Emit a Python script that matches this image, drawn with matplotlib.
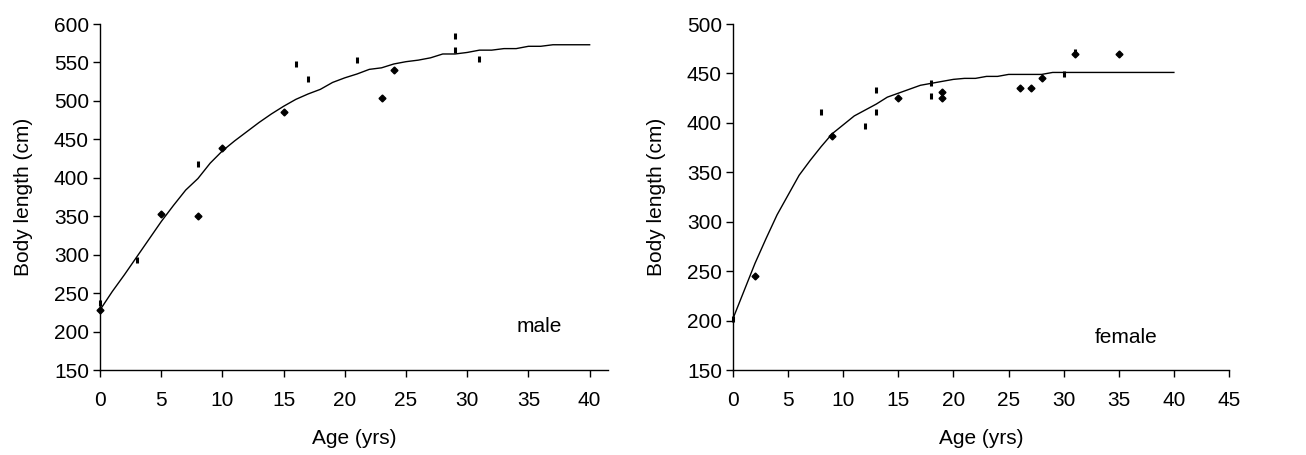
import matplotlib
matplotlib.use('Agg')
import matplotlib.pyplot as plt
import numpy as np

plt.rcParams['font.family'] = ['Liberation Sans', 'DejaVu Sans']
plt.rcParams['font.size'] = 15

# male
male_fit_age = list(range(41))
male_fit_len = [228, 252, 274, 297, 320, 343, 364, 384, 399, 419, 435, 448, 460, 472, 483,
                493, 502, 509, 515, 524, 530, 535, 541, 543, 548, 551, 553, 556, 561, 561,
                563, 566, 566, 568, 568, 571, 571, 573, 573, 573, 573]
male_dia_age = [0, 5, 8, 10, 15, 23, 24]
male_dia_len = [228, 353, 350, 439, 486, 504, 540]
male_bar_age = [0, 3, 8, 16, 17, 21, 29, 29, 31]
male_bar_len = [237, 293, 418, 548, 529, 553, 584, 566, 555]

# female
fem_fit_age = list(range(41))
fem_fit_len = [202, 230, 258, 283, 307, 327, 347, 362, 376, 389, 398, 407, 413, 419, 426,
               430, 434, 438, 440, 442, 444, 445, 445, 447, 447, 449, 449, 449, 449, 451,
               451, 451, 451, 451, 451, 451, 451, 451, 451, 451, 451]
fem_dia_age = [2, 9, 15, 19, 19, 26, 27, 28, 31, 35]
fem_dia_len = [245, 387, 425, 431, 425, 435, 435, 445, 470, 470]
fem_bar_age = [0, 8, 12, 13, 13, 18, 18, 30, 31]
fem_bar_len = [202, 411, 397, 433, 411, 440, 427, 449, 472]

fig = plt.figure(figsize=(13.06, 4.55), dpi=100)
ax1 = fig.add_axes([100/1306, 85/455, 508/1306, 346/455])
ax2 = fig.add_axes([733/1306, 85/455, 496/1306, 346/455])


def style(ax, xmax, ymin, ymax, xt):
    for s in ['top', 'right']:
        ax.spines[s].set_visible(False)
    ax.spines['left'].set_linewidth(1)
    ax.spines['bottom'].set_linewidth(1)
    ax.set_xlim(0, xmax)
    ax.set_ylim(ymin, ymax)
    ax.set_xticks(xt)
    ax.set_yticks(np.arange(ymin, ymax + 1, 50))
    ax.tick_params(direction='out', length=5, width=1, pad=3)
    ax.tick_params(axis='x', pad=10)
    ax.set_xlabel('Age (yrs)', labelpad=14)
    ax.set_ylabel('Body length (cm)', labelpad=15)


ax1.plot(male_fit_age, male_fit_len, color='black', lw=1)
ax1.plot(male_dia_age, male_dia_len, 'D', color='black', ms=3.5, clip_on=False)
ax1.plot(male_bar_age, male_bar_len, '|', color='black', ms=5, mew=2.2, clip_on=False)
style(ax1, 41.5, 150, 600, range(0, 41, 5))
ax1.text(35.9, 206, 'male', ha='center', va='center')

ax2.plot(fem_fit_age, fem_fit_len, color='black', lw=1)
ax2.plot(fem_dia_age, fem_dia_len, 'D', color='black', ms=3.5, clip_on=False)
ax2.plot(fem_bar_age, fem_bar_len, '|', color='black', ms=5, mew=2.2, clip_on=False)
style(ax2, 45, 150, 500, range(0, 46, 5))
ax2.text(35.7, 183, 'female', ha='center', va='center')

fig.savefig('out.png', dpi=100)
